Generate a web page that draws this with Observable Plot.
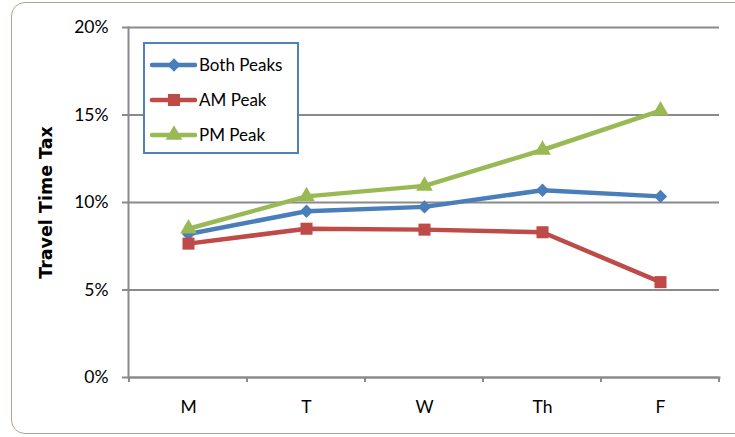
<!DOCTYPE html>
<html>
<head>
<meta charset="utf-8">
<script src="https://cdn.jsdelivr.net/npm/d3@7"></script>
<script src="https://cdn.jsdelivr.net/npm/@observablehq/plot@0.6"></script>
<style>
  body { margin: 0; background: #fff; overflow: hidden; font-family: Lato, "Open Sans", sans-serif; }
  #wrap { position: relative; width: 735px; height: 437px; }
  #frame { position: absolute; left: 11px; top: 2px; width: 760px; height: 430px;
           border: 1.5px solid #b3a391; border-radius: 14px; pointer-events: none; }
  #legend { position: absolute; left: 143px; top: 42px; width: 152px; height: 108px;
            border: 2px solid #4f81bd; background: #fff; box-sizing: content-box; }
  .row { display: flex; align-items: center; height: 35px; font-size: 17px; color: #000; }
  .row:first-child { margin-top: 3px; }
  .row svg { margin-left: 4px; margin-right: 2px; }
</style>
</head>
<body>
<div id="wrap">
  <div id="chart"></div>
  <div id="legend"></div>
  <div id="frame"></div>
</div>
<script>
// Weekday categories and the travel time tax (in %) for each peak period
const days = ["M", "T", "W", "Th", "F"];
const bothPeaks = [8.2, 9.5, 9.75, 10.7, 10.35];
const amPeak = [7.65, 8.5, 8.45, 8.3, 5.45];
const pmPeak = [8.5, 10.35, 10.95, 13.0, 15.25];
const yTicks = [0, 5, 10, 15, 20];

const seriesNames = ["Both Peaks", "AM Peak", "PM Peak"];
const seriesColors = ["#4a7ebb", "#be4b48", "#98b954"];
const seriesSymbols = ["diamond2", "square", "triangle"];
const seriesR = [6, 6.8, 6.2];

const rows = [bothPeaks, amPeak, pmPeak].flatMap((vals, s) =>
  vals.map((v, i) => ({series: seriesNames[s], day: days[i], value: v})));

const colorScale = {domain: seriesNames, range: seriesColors};
const axisGray = "#8a8a8a";

const chart = Plot.plot({
  width: 735,
  height: 437,
  marginLeft: 128,
  marginRight: 16,
  marginTop: 27,
  marginBottom: 60,
  style: {fontFamily: "Lato, 'Open Sans', sans-serif", fontSize: "17px", color: "#000", background: "transparent", overflow: "visible"},
  x: {type: "band", domain: days, padding: 0, axis: null, label: null},
  y: {domain: [0, 20], axis: null, label: null},
  color: colorScale,
  marks: [
    Plot.gridY(yTicks, {stroke: axisGray, strokeOpacity: 1, strokeWidth: 2}),
    Plot.axisY(yTicks, {tickSize: 6, tickPadding: 14, tickFormat: d => d + "%", stroke: axisGray, strokeWidth: 2, fontSize: 17.5, label: null}),
    Plot.axisX(days, {tickSize: 0, tickPadding: 23, fontSize: 17.5, label: null}),
    Plot.frame({anchor: "left", stroke: axisGray, strokeWidth: 2}),
    Plot.frame({anchor: "bottom", stroke: axisGray, strokeWidth: 2}),
    Plot.text(["Travel Time Tax"], {
      frameAnchor: "left", textAnchor: "middle", rotate: -90, dx: -82,
      fontFamily: "'DejaVu Sans', sans-serif", fontWeight: "bold", fontSize: 17.5
    }),
    Plot.line(rows, {x: "day", y: "value", z: "series", stroke: "series", strokeWidth: 4.5, strokeLinejoin: "round", strokeLinecap: "round"}),
    ...seriesNames.map((name, s) =>
      Plot.dot(rows.filter(d => d.series === name), {
        x: "day", y: "value", symbol: () => seriesSymbols[s], fill: seriesColors[s], r: seriesR[s], stroke: "none"
      }))
  ]
});

// Tick marks at the category boundaries below the horizontal axis
const xs = chart.scale("x");
const ys = chart.scale("y");
const y0 = ys.apply(0);
const edges = [...xs.domain.map(d => xs.apply(d)), xs.apply(xs.domain[xs.domain.length - 1]) + xs.bandwidth];
d3.select(chart).append("g")
  .attr("stroke", axisGray).attr("stroke-width", 2)
  .selectAll("line").data(edges).join("line")
  .attr("x1", d => d).attr("x2", d => d)
  .attr("y1", y0).attr("y2", y0 + 5);

document.getElementById("chart").append(chart);

// Legend box
const legend = d3.select("#legend");
seriesNames.forEach((name, s) => {
  const row = legend.append("div").attr("class", "row");
  const svg = row.append("svg").attr("width", 48).attr("height", 20);
  svg.append("line").attr("x1", 3).attr("x2", 46).attr("y1", 10).attr("y2", 10)
    .attr("stroke", seriesColors[s]).attr("stroke-width", 4.5).attr("stroke-linecap", "round");
  const sym = {diamond2: d3.symbolDiamond2, square: d3.symbolSquare, triangle: d3.symbolTriangle}[seriesSymbols[s]];
  svg.append("path").attr("transform", "translate(25,10)")
    .attr("d", d3.symbol(sym, Math.PI * seriesR[s] * seriesR[s])())
    .attr("fill", seriesColors[s]);
  row.append("span").text(name);
});
</script>
</body>
</html>
